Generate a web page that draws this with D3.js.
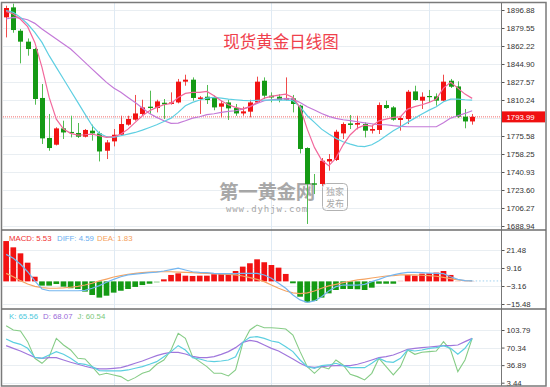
<!DOCTYPE html>
<html><head><meta charset="utf-8">
<script src="https://cdn.jsdelivr.net/npm/d3@7"></script>
<style>body{margin:0;background:#fff}svg{display:block}</style>
</head><body><svg id="c" width="550" height="387"></svg>
<script>
// ---------- data ----------
const openP  = [1889.8,1899.4,1876.9,1866.4,1859.3,1812.2,1773.7,1767.2,1782.9,1779.5,1778.5,1774.9,1780.7,1778.1,1761.4,1770.4,1776.8,1786.5,1791.3,1796.8,1803.8,1802.5,1807.6,1806.4,1807.9,1827.9,1829.8,1811.2,1813.4,1812.2,1803.8,1807.9,1802.5,1797.3,1799.0,1807.9,1828.8,1814.4,1813.4,1810.5,1811.8,1804.8,1764.0,1730.0,1729.4,1751.1,1752.5,1778.1,1787.7,1786.5,1787.1,1780.7,1781.4,1805.4,1803.1,1791.0,1791.9,1818.5,1809.6,1814.1,1813.7,1809.6,1828.8,1823.3,1794.2,1789.6];
const closeP = [1898.8,1877.6,1866.4,1859.3,1811.2,1773.3,1764.0,1782.9,1779.0,1779.0,1774.9,1781.4,1778.1,1760.7,1769.4,1776.8,1787.1,1792.0,1797.3,1803.1,1802.5,1808.9,1806.0,1807.9,1827.9,1829.8,1812.2,1812.7,1810.2,1803.1,1807.0,1802.2,1797.3,1799.3,1807.9,1827.9,1814.4,1812.7,1810.2,1812.2,1806.4,1763.1,1729.4,1728.7,1751.8,1753.4,1779.7,1787.1,1786.2,1788.1,1780.7,1782.3,1805.4,1802.5,1791.3,1792.9,1818.2,1810.2,1813.4,1813.1,1809.6,1827.9,1823.0,1794.2,1789.6,1793.99];
const highP  = [1901.0,1903.0,1878.6,1869.5,1860.5,1825.6,1796.8,1784.0,1790.3,1795.1,1788.1,1782.3,1786.5,1780.0,1771.7,1782.3,1795.1,1795.1,1815.1,1810.5,1819.2,1810.5,1811.2,1817.6,1830.5,1834.6,1832.0,1814.0,1824.7,1814.4,1809.6,1810.5,1806.4,1803.8,1810.5,1832.7,1832.0,1817.6,1815.9,1832.0,1815.1,1805.7,1764.7,1739.0,1754.4,1758.2,1781.6,1788.7,1795.8,1795.1,1788.7,1786.5,1807.9,1809.6,1804.4,1794.2,1819.9,1824.0,1817.6,1819.9,1816.6,1834.6,1830.5,1828.2,1801.6,1796.8];
const lowP   = [1870.5,1875.0,1845.5,1852.9,1805.7,1767.9,1761.4,1766.5,1772.7,1774.2,1773.7,1774.2,1771.1,1751.1,1753.4,1765.6,1775.9,1785.5,1790.3,1795.1,1796.8,1798.3,1791.9,1805.8,1807.0,1824.0,1809.6,1796.8,1806.4,1800.4,1793.5,1791.0,1795.0,1795.1,1793.5,1807.0,1811.2,1808.0,1808.0,1809.6,1798.3,1758.8,1690.9,1719.7,1727.5,1742.2,1751.5,1772.7,1782.3,1782.0,1774.2,1778.0,1777.5,1801.6,1790.3,1780.7,1787.1,1809.6,1801.6,1807.9,1804.8,1809.0,1821.8,1792.9,1783.0,1786.5];
const ma5  = [1895.5,1893.0,1888.0,1880.8,1865.7,1841.6,1812.7,1791.8,1782.2,1778.1,1776.5,1776.8,1777.4,1775.8,1774.2,1774.9,1777.4,1782.2,1788.7,1795.1,1799.9,1803.1,1805.7,1807.0,1812.7,1816.6,1817.5,1817.5,1818.5,1814.3,1809.5,1805.7,1803.1,1801.5,1803.8,1807.9,1812.1,1813.7,1815.0,1815.9,1812.7,1803.1,1782.2,1764.6,1752.4,1746.9,1754.3,1767.1,1776.8,1783.2,1786.1,1785.1,1790.2,1791.9,1793.5,1794.1,1801.5,1803.8,1805.7,1807.9,1811.1,1821.7,1827.2,1821.7,1815.9,1811.8];
const ma10 = [1896.2,1894.6,1889.8,1883.4,1875.3,1865.7,1852.9,1841.6,1830.4,1819.2,1807.9,1796.7,1785.5,1778.1,1774.9,1774.2,1775.8,1777.4,1779.0,1781.3,1783.8,1786.4,1789.6,1792.8,1798.3,1804.7,1807.9,1810.2,1812.1,1812.7,1812.1,1811.1,1810.5,1809.9,1809.5,1809.9,1810.2,1810.2,1810.2,1810.2,1809.5,1803.8,1795.1,1788.7,1782.2,1777.4,1773.3,1770.0,1767.8,1765.9,1765.3,1767.2,1771.0,1775.8,1780.7,1784.5,1788.7,1792.8,1796.7,1800.5,1803.8,1808.6,1811.1,1811.1,1810.5,1810.2];
const ma20 = [1888.2,1889.8,1889.1,1887.5,1884.0,1878.5,1873.7,1868.9,1864.1,1859.3,1852.9,1846.5,1840.0,1833.6,1827.2,1821.7,1817.6,1812.7,1807.9,1802.5,1797.3,1793.5,1790.3,1787.7,1788.0,1790.3,1792.8,1794.1,1796.1,1797.0,1798.3,1799.3,1799.9,1801.5,1803.8,1807.0,1809.5,1810.5,1811.1,1811.5,1811.1,1807.9,1803.8,1800.6,1797.3,1794.5,1792.5,1791.2,1790.3,1789.3,1788.3,1787.4,1786.4,1786.4,1785.5,1784.8,1784.5,1784.5,1784.5,1784.5,1784.5,1788.3,1792.8,1795.1,1797.3,1799.9];
const macdBar = [27.6,23.3,19.2,12.8,3.2,-2.9,-2.9,-1.8,-3.6,-4.7,-5.2,-7.0,-9.3,-11.1,-9.8,-7.7,-6.4,-5.2,-3.8,-2.5,-1.6,-0.9,1.4,4.4,5.5,3.9,3.7,3.9,3.9,4.9,5.5,5.5,7.1,10.1,12.4,15.1,13.1,11.2,9.4,5.1,-1.3,-10.5,-14.3,-13.4,-11.1,-8.2,-5.9,-5.2,-5.2,-5.4,-5.9,-4.3,-1.6,-1.6,-1.6,0.5,4.4,3.9,5.3,5.5,6.0,7.1,4.4,0.3,0.2,0.2];
const diff = [18.5,15.8,11.7,6.6,0.3,-5.2,-6.4,-6.4,-6.4,-6.4,-6.4,-6.2,-4.7,-2.9,-0.6,1.4,3.2,4.4,5.0,5.5,6.0,6.4,7.1,8.0,9.0,7.8,6.6,6.2,6.0,5.5,5.3,5.3,5.3,5.5,5.5,5.5,4.4,2.1,-1.3,-4.7,-9.3,-12.7,-14.3,-13.4,-10.5,-6.6,-3.6,-2.5,-2.5,-2.5,-2.0,-0.2,1.4,3.2,4.4,5.5,6.2,6.2,6.0,5.7,5.5,5.3,3.2,1.4,0.5,0.3];
const dea  = [5.5,3.2,0.5,-1.8,-3.4,-4.3,-4.7,-4.7,-4.5,-4.0,-3.4,-2.5,-1.3,0.3,1.6,3.0,3.9,4.9,5.5,6.0,6.4,6.6,6.6,6.6,6.4,6.2,6.0,5.7,5.5,5.3,5.0,4.8,4.4,3.7,2.6,1.4,-0.2,-2.5,-4.7,-6.6,-7.9,-8.4,-7.9,-6.6,-4.7,-3.1,-2.0,-0.9,0.1,1.0,1.6,2.3,3.0,3.7,3.9,4.4,4.4,4.4,4.2,3.9,3.5,2.8,1.9,1.0,0.5,0.3];
const kLine = [86.7,80.3,76.5,68.9,51.8,49.9,56.2,62.6,57.5,49.9,40.4,38.5,34.0,26.4,25.8,25.8,25.8,27.7,30.9,34.0,38.5,43.5,53.0,62.6,74.0,65.7,51.1,48.6,44.8,43.5,44.8,46.7,53.0,80.3,89.8,91.1,87.9,82.8,80.3,72.1,62.6,46.7,34.0,30.9,35.9,37.2,40.4,35.9,32.1,32.1,32.1,40.4,49.9,43.5,42.3,49.9,65.7,63.8,65.7,68.9,70.2,74.0,68.9,57.5,68.9,87.9];
const dLine = [74.0,68.9,63.8,57.5,51.8,49.9,51.1,51.1,46.7,42.3,38.5,34.7,31.5,29.6,29.6,30.9,32.1,35.9,40.4,44.8,49.9,55.0,58.8,61.3,61.3,58.1,53.7,51.1,51.1,53.0,57.5,62.6,70.2,80.3,84.1,81.6,75.3,68.9,63.8,56.2,48.6,40.4,34.0,32.8,34.0,35.3,35.9,35.9,35.9,38.5,42.3,46.7,51.1,53.0,56.2,61.3,67.0,68.9,70.2,71.4,72.7,74.0,74.0,75.2,81.6,87.9];
const jLine = [112.0,103.8,101.9,81.6,49.9,40.4,53.0,87.9,75.3,65.7,49.9,48.6,34.0,18.2,21.3,18.2,15.0,6.8,13.1,21.3,25.8,38.5,46.7,65.7,97.4,87.9,53.0,43.5,34.0,21.3,21.3,16.3,27.7,78.4,103.8,113.3,108.2,108.2,107.0,105.7,94.3,62.6,34.0,21.3,34.0,29.6,46.7,37.2,19.4,15.0,8.7,21.3,49.9,34.0,18.2,34.0,65.7,57.5,61.3,62.6,63.8,81.6,65.7,24.5,46.7,87.9];
const priceTicks = [1896.88,1879.55,1862.22,1844.90,1827.57,1810.24,1775.58,1758.25,1740.93,1723.60,1706.27,1688.94];
const priceGrid  = [1896.88,1879.55,1862.22,1844.90,1827.57,1810.24,1792.91,1775.58,1758.25,1740.93,1723.60,1706.27,1688.94];
const macdTicks = [21.48,9.16,-3.16,-15.48];
const kdjTicks = [103.79,70.34,36.89,3.44];
const lastPrice = 1793.99;
const title = "现货黄金日线图";
const macdLegend = [["MACD: 5.53","#f03030"],["DIFF: 4.59","#6aaef0"],["DEA: 1.83","#f5a05a"]];
const kdjLegend = [["K: 65.56","#4cc8dc"],["D: 68.07","#9a6ad8"],["J: 60.54","#7cc87c"]];

// ---------- layout ----------
const svg = d3.select("#c");
const N = openP.length;
const AX = 501.5;
const x = d3.scaleBand().domain(d3.range(N)).range([1.4, 476.9]).padding(0.32);
const cx = i => x(i) + x.bandwidth()/2;
const yP = d3.scaleLinear().domain([1688.94,1896.88]).range([226,10]);
const yM = d3.scaleLinear().domain([-15.48,21.48]).range([304,250]);
const yK = d3.scaleLinear().domain([3.44,103.79]).range([382.7,330]);
const panels = [{y0:3,y1:230,id:"pm"},{y0:231,y1:309,id:"pd"},{y0:310,y1:386,id:"pk"}];
const defs = svg.append("defs");
panels.forEach(p=>defs.append("clipPath").attr("id",p.id).append("rect")
  .attr("x",2.5).attr("y",p.y0).attr("width",AX-2.5).attr("height",p.y1-p.y0));

const grid = svg.append("g");
function hgrid(scale, vals){
  grid.selectAll(null).data(vals).enter().append("line")
    .attr("x1",3).attr("x2",AX).attr("y1",d=>Math.round(scale(d))+0.5).attr("y2",d=>Math.round(scale(d))+0.5)
    .attr("stroke","#e9eef2").attr("stroke-width",1);
}
hgrid(yP, priceGrid); hgrid(yM, macdTicks); hgrid(yK, kdjTicks);
[15,37,59].forEach(i=>grid.append("line").attr("x1",Math.round(cx(i))+0.5).attr("x2",Math.round(cx(i))+0.5)
  .attr("y1",3).attr("y2",386).attr("stroke","#dfeaf4"));

// title
svg.append("text").attr("x",281).attr("y",48).attr("text-anchor","middle")
  .attr("font-family","Noto Sans CJK SC").attr("font-size",16.5).attr("fill","#f0404c").text(title);

// watermark
const wm = svg.append("g").attr("opacity",0.75);
wm.append("text").attr("x",267).attr("y",199).attr("text-anchor","middle")
  .attr("font-family","Noto Sans CJK SC").attr("font-weight","bold").attr("font-size",19.5)
  .attr("letter-spacing",-0.3).attr("fill","#8c8c8c").text("第一黄金网");
wm.append("text").attr("x",267).attr("y",212).attr("text-anchor","middle")
  .attr("font-family","DejaVu Sans Mono").attr("font-size",9).attr("letter-spacing",0.9).attr("fill","#8c8c8c").text("www.dyhjw.com");
wm.append("rect").attr("x",322.5).attr("y",183.5).attr("width",25).attr("height",27).attr("rx",4)
  .attr("fill","none").attr("stroke","#999");
wm.append("text").attr("x",335).attr("y",195).attr("text-anchor","middle").attr("font-family","Noto Sans CJK SC")
  .attr("font-size",9).attr("fill","#8c8c8c").text("独家");
wm.append("text").attr("x",335).attr("y",207).attr("text-anchor","middle").attr("font-family","Noto Sans CJK SC")
  .attr("font-size",9).attr("fill","#8c8c8c").text("发布");

// ---------- main panel ----------
const gm = svg.append("g").attr("clip-path","url(#pm)");
gm.append("line").attr("x1",3).attr("x2",AX).attr("y1",yP(lastPrice)).attr("y2",yP(lastPrice))
  .attr("stroke","#f26a6a").attr("stroke-dasharray","1,1").attr("stroke-width",1);
const idx = d3.range(N);
const up = i => closeP[i] >= openP[i];
gm.selectAll(".wick").data(idx).enter().append("line")
  .attr("x1",i=>Math.round(cx(i))+0.5).attr("x2",i=>Math.round(cx(i))+0.5)
  .attr("y1",i=>yP(highP[i])).attr("y2",i=>yP(lowP[i]))
  .attr("stroke",i=>up(i)?"#f04a4a":"#52bc52").attr("stroke-width",1);
gm.selectAll(".body").data(idx).enter().append("rect")
  .attr("x",i=>Math.round(cx(i))+0.5-2.5).attr("width",5)
  .attr("y",i=>yP(Math.max(openP[i],closeP[i])))
  .attr("height",i=>Math.max(1.2,Math.abs(yP(openP[i])-yP(closeP[i]))))
  .attr("fill",i=>up(i)?"#f21212":"#149a14");
const lineP = d3.line().x((d,i)=>cx(i)).y(d=>yP(d));
[[ma20,"#c47ad8"],[ma10,"#5fcfe2"],[ma5,"#f2689c"]].forEach(([arr,c])=>
  gm.append("path").attr("d",lineP(arr)).attr("fill","none").attr("stroke",c).attr("stroke-width",1.2));

// ---------- MACD panel ----------
const gd = svg.append("g").attr("clip-path","url(#pd)");
gd.selectAll(".mb").data(idx).enter().append("rect")
  .attr("x",i=>x(i)-0.4).attr("width",x.bandwidth()+0.8)
  .attr("y",i=>Math.min(yM(0),yM(macdBar[i])))
  .attr("height",i=>Math.abs(yM(macdBar[i])-yM(0)))
  .attr("fill",i=>{const v=macdBar[i]; if(Math.abs(v)<1) return v>0?"#f8b0b0":"#a8dca8"; return v>0?"#f21212":"#149a14";});
const lineM = d3.line().x((d,i)=>cx(i)).y(d=>yM(d));
gd.append("path").attr("d",lineM(dea)).attr("fill","none").attr("stroke","#f5a463").attr("stroke-width",1.2);
gd.append("path").attr("d",lineM(diff)).attr("fill","none").attr("stroke","#74b6f0").attr("stroke-width",1.2);
gd.append("line").attr("x1",cx(N-1)).attr("x2",AX).attr("y1",yM(dea[N-1])).attr("y2",yM(dea[N-1]))
  .attr("stroke","#9fd0ee").attr("stroke-dasharray","1.5,2");
macdLegend.forEach(([t,c],k)=>{
  svg.append("text").attr("x",[9,57,97][k]).attr("y",241).attr("font-family","Liberation Sans").attr("font-size",7.8).attr("fill",c).text(t);
});

// ---------- KDJ panel ----------
const gk = svg.append("g").attr("clip-path","url(#pk)");
const lineK = d3.line().x((d,i)=>cx(i)).y(d=>yK(d));
gk.append("path").attr("d",lineK(jLine)).attr("fill","none").attr("stroke","#86cc86").attr("stroke-width",1.1);
gk.append("path").attr("d",lineK(dLine)).attr("fill","none").attr("stroke","#a077dc").attr("stroke-width",1.2);
gk.append("path").attr("d",lineK(kLine)).attr("fill","none").attr("stroke","#5ccfe0").attr("stroke-width",1.2);
kdjLegend.forEach(([t,c],k)=>{
  svg.append("text").attr("x",[9,43,77.5][k]).attr("y",319).attr("font-family","Liberation Sans").attr("font-size",7.8).attr("fill",c).text(t);
});

// ---------- axes ----------
function axis(scale, vals){
  const g = svg.append("g").attr("transform",`translate(${AX},0)`)
    .call(d3.axisRight(scale).tickValues(vals).tickSize(3).tickPadding(2).tickFormat(d3.format(".2f")));
  g.select(".domain").remove();
  g.selectAll("line").attr("stroke","#555");
  g.selectAll("text").attr("font-family","Liberation Sans").attr("font-size",7.8).attr("fill","#333");
}
axis(yP, priceTicks); axis(yM, macdTicks); axis(yK, kdjTicks);

// frame
svg.append("line").attr("x1",AX).attr("x2",AX).attr("y1",3).attr("y2",386).attr("stroke","#777");
svg.append("rect").attr("x",1.5).attr("y",2.5).attr("width",544.5).attr("height",383.5)
  .attr("fill","none").attr("stroke","#7a7a7a").attr("stroke-width",1.5);
[230,309].forEach(yy=>svg.append("line").attr("x1",1.5).attr("x2",546).attr("y1",yy).attr("y2",yy)
  .attr("stroke","#6e6e6e").attr("stroke-width",1.6));

// current price label
svg.append("rect").attr("x",AX+0.5).attr("y",yP(lastPrice)-5.5).attr("width",43).attr("height",11).attr("fill","#f01010");
svg.append("text").attr("x",AX+5).attr("y",yP(lastPrice)+3).attr("font-family","Liberation Sans").attr("font-size",7.8)
  .attr("fill","#fff").text(d3.format(".2f")(lastPrice));
</script></body></html>
